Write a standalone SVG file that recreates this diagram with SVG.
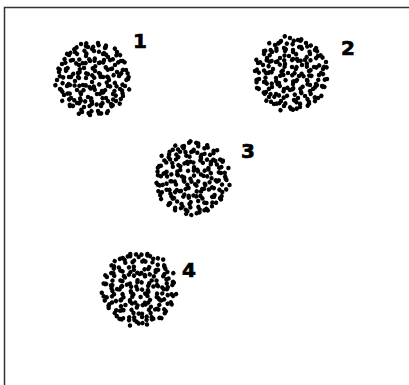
<svg xmlns="http://www.w3.org/2000/svg" xmlns:xlink="http://www.w3.org/1999/xlink" width="409" height="385" viewBox="0 0 409 385">
<style>
.frame{fill:none;stroke:#333;stroke-width:1.5}
.lbl{font-family:"DejaVu Sans","Liberation Sans",Arial,sans-serif;font-weight:bold;font-size:20px;fill:#000;stroke:#000;stroke-width:0.7}
.d circle{fill:#000;r:2.25px}
</style>
<defs>
<g id="s" class="d">
<circle cx="-12" cy="-35" r="2.25"/><circle cx="-5" cy="-32" r="2.25"/><circle cx="5" cy="-36" r="2.25"/><circle cx="12" cy="-31" r="2.25"/>
<circle cx="-24" cy="-24" r="2.25"/><circle cx="-18" cy="-27" r="2.25"/><circle cx="-7" cy="-23" r="2.25"/><circle cx="1" cy="-28" r="2.25"/><circle cx="10" cy="-25" r="2.25"/><circle cx="15" cy="-22" r="2.25"/><circle cx="24" cy="-27" r="2.25"/>
<circle cx="-31" cy="-15" r="2.25"/><circle cx="-20" cy="-19" r="2.25"/><circle cx="-14" cy="-14" r="2.25"/><circle cx="-3" cy="-18" r="2.25"/><circle cx="6" cy="-16" r="2.25"/><circle cx="11" cy="-19" r="2.25"/><circle cx="22" cy="-14" r="2.25"/><circle cx="28" cy="-18" r="2.25"/>
<circle cx="-34" cy="-7" r="2.25"/><circle cx="-27" cy="-10" r="2.25"/><circle cx="-15" cy="-6" r="2.25"/><circle cx="-9" cy="-11" r="2.25"/><circle cx="2" cy="-8" r="2.25"/><circle cx="7" cy="-5" r="2.25"/><circle cx="18" cy="-10" r="2.25"/><circle cx="24" cy="-7" r="2.25"/><circle cx="33" cy="-9" r="2.25"/>
<circle cx="-36" cy="1" r="2.25"/><circle cx="-24" cy="-2" r="2.25"/><circle cx="-18" cy="2" r="2.25"/><circle cx="-7" cy="-1" r="2.25"/><circle cx="-1" cy="3" r="2.25"/><circle cx="10" cy="-2" r="2.25"/><circle cx="16" cy="1" r="2.25"/><circle cx="26" cy="-3" r="2.25"/><circle cx="35" cy="0" r="2.25"/>
<circle cx="-33" cy="10" r="2.25"/><circle cx="-26" cy="7" r="2.25"/><circle cx="-16" cy="11" r="2.25"/><circle cx="-10" cy="6" r="2.25"/><circle cx="1" cy="9" r="2.25"/><circle cx="9" cy="12" r="2.25"/><circle cx="15" cy="7" r="2.25"/><circle cx="27" cy="10" r="2.25"/><circle cx="32" cy="7" r="2.25"/>
<circle cx="-29" cy="16" r="2.25"/><circle cx="-22" cy="19" r="2.25"/><circle cx="-12" cy="15" r="2.25"/><circle cx="-5" cy="18" r="2.25"/><circle cx="4" cy="15" r="2.25"/><circle cx="13" cy="19" r="2.25"/><circle cx="20" cy="15" r="2.25"/><circle cx="30" cy="17" r="2.25"/>
<circle cx="-23" cy="27" r="2.25"/><circle cx="-16" cy="24" r="2.25"/><circle cx="-9" cy="28" r="2.25"/><circle cx="-1" cy="23" r="2.25"/><circle cx="8" cy="27" r="2.25"/><circle cx="18" cy="25" r="2.25"/><circle cx="23" cy="22" r="2.25"/>
<circle cx="-11" cy="33" r="2.25"/><circle cx="-3" cy="36" r="2.25"/><circle cx="5" cy="32" r="2.25"/><circle cx="14" cy="34" r="2.25"/>
</g>
<g id="dots">
<use xlink:href="#s" href="#s"/>
<use xlink:href="#s" href="#s" transform="translate(1,-1) rotate(127)"/>
<use xlink:href="#s" href="#s" transform="translate(-1,1) rotate(243) scale(-1,1)"/>
</g>
</defs>
<path class="frame" d="M4.5,385V7.5H409"/>
<g id="cluster1">
<use xlink:href="#dots" href="#dots" transform="translate(93,79)"/>
<text class="lbl" x="133" y="48">1</text>
</g>
<g id="cluster2">
<use xlink:href="#dots" href="#dots" transform="translate(291,74) rotate(90)"/>
<text class="lbl" x="341" y="55">2</text>
</g>
<g id="cluster3">
<use xlink:href="#dots" href="#dots" transform="translate(192,178) rotate(200)"/>
<text class="lbl" x="241" y="158">3</text>
</g>
<g id="cluster4">
<use xlink:href="#dots" href="#dots" transform="translate(139,289) scale(-1,1) rotate(60)"/>
<text class="lbl" x="182" y="277">4</text>
</g>
<g id="connectors"/>
</svg>
